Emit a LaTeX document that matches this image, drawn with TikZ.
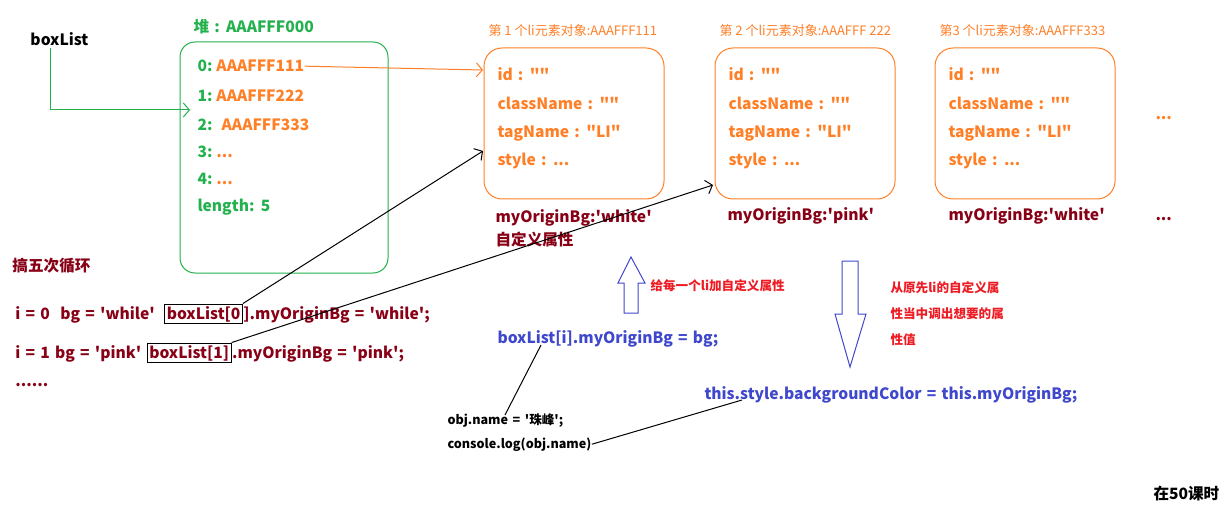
\documentclass[tikz,border=0pt]{standalone}
\usepackage{fontspec}
\setmainfont{Noto Sans CJK SC}[Ligatures=TeXOff]
\usetikzlibrary{arrows.meta,positioning}
\definecolor{heapgreen}{RGB}{34,177,76}
\definecolor{liorange}{RGB}{255,127,39}
\definecolor{bgred}{RGB}{136,0,21}
\definecolor{codeblue}{RGB}{63,72,204}
\definecolor{notered}{RGB}{237,28,36}
\newcommand\tridots{...}
\newcommand\bigfont{\fontsize{15.6}{18}\selectfont\bfseries\spaceskip 5.2pt\relax}
\newcommand\smallfont{\fontsize{12.6}{14}\selectfont\bfseries\spaceskip 4.5pt\relax}
\tikzset{
  big/.style={font=\bigfont, inner sep=0pt, anchor=base west},
  small/.style={font=\smallfont, inner sep=0pt, anchor=base west},
  title/.style={font=\fontsize{13}{14}\selectfont, inner sep=0pt, anchor=base west, text=liorange},
  libox/.style={draw=liorange, rounded corners=18pt},
  barb/.style={-{Straight Barb[length=6pt,width=14pt]}},
}
\begin{document}
\begin{tikzpicture}[x=1pt,y=-1pt,line width=1pt]
  \useasboundingbox (0,0) rectangle (1229,505);
  % heap
  \node[big] (boxlist) at (30,46) {boxList};
  \node[big, text=heapgreen] (heaptitle) at (193,33) {堆 : AAAFFF000};
  \draw[heapgreen, rounded corners=15pt] (180,42) rectangle (388,273);
  \coordinate (heapin) at (190,110);
  \draw[heapgreen, barb] (50,48) |- (heapin);
  \foreach \i/\y/\val in {0/72/AAAFFF111,1/102/AAAFFF222,2/131/\ AAAFFF333,3/158/\tridots,4/185/\tridots} {
    \node[big, text=heapgreen] (hk\i) at (197,\y) {\i:};
    \node[big, text=liorange, right=3pt of hk\i.base east, anchor=base west] (hv\i) {\val};
  }
  \node[big, text=heapgreen] (hlen) at (197,212) {length: 5};
  % li objects
  \foreach \n/\x/\lab in {1/484/{第 1 个li元素对象:AAAFFF111},2/715/{第 2 个li元素对象:AAAFFF 222},3/935/{第3 个li元素对象:AAAFFF333}} {
    \node[title] (t\n) at (\x+4,36) {\lab};
    \draw[libox] (\x,48) rectangle (\x+180,199);
    \node[big, text=liorange] (id\n) at (\x+13,81) {id : ""};
    \node[big, text=liorange] (cn\n) at (\x+13,110) {className : ""};
    \node[big, text=liorange] (tn\n) at (\x+13,138) {tagName : "LI"};
    \node[big, text=liorange] (st\n) at (\x+13,166) {style : \tridots};
  }
  \node[big, text=bgred] (bg1) at (495,223) {myOriginBg:'white'};
  \node[big, text=bgred] (own) at (495,246) {自定义属性};
  \node[big, text=bgred] (bg2) at (727,221) {myOriginBg:'pink'};
  \node[big, text=bgred] (bg3) at (948,221) {myOriginBg:'white'};
  \node[big, text=liorange] (more1) at (1155,120) {\tridots};
  \node[big, text=bgred] (more2) at (1155,221) {\tridots};
  \coordinate (li1in) at (483,70);
  \draw[liorange, barb] (hv0.east) -- (li1in);
  % loop
  \node[big, text=bgred] (loop) at (12,272) {搞五次循环};
  \node[big, text=bgred] (i0a) at (15,319) {i = 0\ \ bg = 'while'};
  \node[big, text=bgred, draw=black, inner sep=2pt, right=9pt of i0a.base east, anchor=base west] (bx0) {boxList[0};
  \node[big, text=bgred, right=0pt of bx0.base east, anchor=base west] (i0b) {].myOriginBg = 'while';};
  \node[big, text=bgred] (i1a) at (15,358) {i = 1 bg = 'pink'};
  \node[big, text=bgred, draw=black, inner sep=2pt, right=5pt of i1a.base east, anchor=base west] (bx1) {boxList[1]};
  \node[big, text=bgred, right=0pt of bx1.base east, anchor=base west] (i1b) {.myOriginBg = 'pink';};
  \node[big, text=bgred] (dots) at (15,386) {......};
  \coordinate (li1side) at (483,151);
  \coordinate (li2side) at (713,185);
  \draw[barb] (bx0.north east) -- (li1side);
  \draw[barb] (bx1.north east) -- (li2side);
  % set / get
  \draw[codeblue] (624,313) -- (624,283) -- (618,283) -- (631,257) -- (645,283) -- (638,283) -- (638,313) -- cycle;
  \node[small, text=notered] (setnote) at (650,290) {给每一个li加自定义属性};
  \node[big, text=codeblue] (setcode) at (497,343) {boxList[i].myOriginBg = bg;};
  \draw[codeblue] (842,261) -- (858,261) -- (858,314) -- (866,314) -- (850,367) -- (835,314) -- (842,314) -- cycle;
  \node[small, text=notered] (getnote1) at (890,292) {从原先li的自定义属};
  \node[small, text=notered] (getnote2) at (890,318) {性当中调出想要的属};
  \node[small, text=notered] (getnote3) at (890,344) {性值};
  \node[big, text=codeblue] (getcode) at (704,399) {this.style.backgroundColor = this.myOriginBg;};
  \node[small] (objname) at (447,424) {obj.name\ = '珠峰';};
  \node[small] (objlog) at (447,448) {console.log(obj.name)};
  \coordinate (seti) at (541,345);
  \coordinate (objtop) at (505,415);
  \coordinate (getstyle) at (742,400);
  \draw (seti) -- (objtop);
  \draw (objlog.east) -- (getstyle);
  \node[big] (lesson) at (1153,499) {在50课时};
\end{tikzpicture}
\end{document}
